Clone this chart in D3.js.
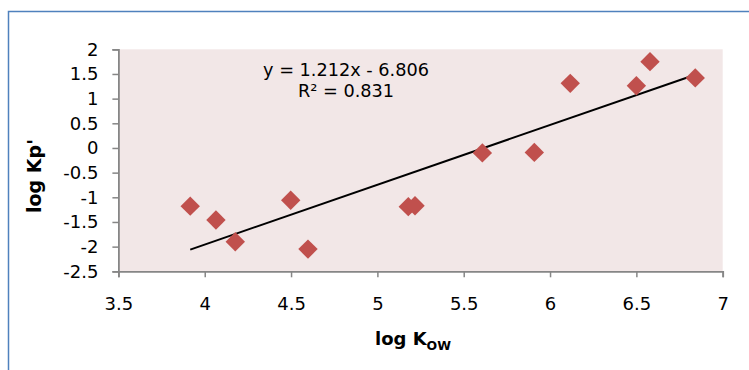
<!DOCTYPE html>
<html>
<head>
<meta charset="utf-8">
<script src="https://cdn.jsdelivr.net/npm/d3@7"></script>
<style>
  html, body { margin: 0; padding: 0; background: #ffffff; }
  svg { display: block; }
</style>
</head>
<body>
<script>
// ---- data ----
const logKow = [3.916, 4.065, 4.177, 4.498, 4.598, 5.179, 5.218, 5.608, 5.909, 6.117, 6.500, 6.579, 6.841];
const logKp  = [-1.18, -1.46, -1.90, -1.06, -2.05, -1.19, -1.17, -0.10, -0.09, 1.31, 1.26, 1.75, 1.42];
const xTicks = [3.5, 4, 4.5, 5, 5.5, 6, 6.5, 7];
const yTicks = [2, 1.5, 1, 0.5, 0, -0.5, -1, -1.5, -2, -2.5];
const slope = 1.212, intercept = -6.806;
const equationText = "y = 1.212x - 6.806";
const r2Text = "R\u00B2 = 0.831";

const W = 749, H = 370;
const plot = { left: 118.4, right: 722.7, top: 49.3, bottom: 271.3 };

const svg = d3.select("body").append("svg").attr("width", W).attr("height", H);

// outer frame (blue, top and left visible)
svg.append("path")
  .attr("d", `M8.5,${H} L8.5,11.5 L${W},11.5`)
  .attr("fill", "none").attr("stroke", "#4f81bd").attr("stroke-width", 1.5);

const x = d3.scaleLinear().domain([3.5, 7]).range([plot.left, plot.right]);
const y = d3.scaleLinear().domain([-2.5, 2]).range([plot.bottom, plot.top]);

// plot area background
svg.append("rect")
  .attr("x", x(3.5)).attr("y", y(2))
  .attr("width", x(7) - x(3.5)).attr("height", y(-2.5) - y(2))
  .attr("fill", "#f2e7e7");

const fmt = d => String(d);
const axisColor = "#868686";
const tickFont = "'DejaVu Sans', sans-serif";

// x axis
const gx = svg.append("g").attr("transform", `translate(0,${plot.bottom})`)
  .call(d3.axisBottom(x).tickValues(xTicks).tickFormat(fmt).tickSizeOuter(0).tickSize(6).tickPadding(20));
// y axis
const gy = svg.append("g").attr("transform", `translate(${plot.left},0)`)
  .call(d3.axisLeft(y).tickValues(yTicks).tickFormat(fmt).tickSizeOuter(0).tickSize(6).tickPadding(14));

[gx, gy].forEach(g => {
  g.select(".domain").attr("stroke", axisColor).attr("stroke-width", 1.8);
  g.selectAll(".tick line").attr("stroke", axisColor).attr("stroke-width", 1.5);
  g.selectAll(".tick text").attr("fill", "#000").style("font-family", tickFont).style("font-size", "18px");
});

// trendline
const xMin = d3.min(logKow), xMax = d3.max(logKow);
svg.append("line")
  .attr("x1", x(xMin)).attr("y1", y(slope * xMin + intercept))
  .attr("x2", x(xMax)).attr("y2", y(slope * xMax + intercept))
  .attr("stroke", "#000").attr("stroke-width", 2);

// markers (diamonds)
const diamond = d3.symbol().type(d3.symbolSquare).size(188);
svg.append("g").selectAll("path")
  .data(logKow.map((v, i) => [v, logKp[i]]))
  .join("path")
  .attr("d", diamond)
  .attr("transform", d => `translate(${x(d[0])},${y(d[1])}) rotate(45)`)
  .attr("fill", "#c0504d");

// equation label
const eq = svg.append("text")
  .attr("text-anchor", "middle")
  .style("font-family", tickFont).style("font-size", "17.7px").attr("fill", "#000");
eq.append("tspan").attr("x", 346).attr("y", 76).text(equationText);
eq.append("tspan").attr("x", 346).attr("y", 96.7).text(r2Text);

// x title
const xt = svg.append("text")
  .attr("x", 413).attr("y", 345).attr("text-anchor", "middle")
  .style("font-family", "'DejaVu Sans', sans-serif").style("font-weight", "bold").style("font-size", "18px");
xt.append("tspan").text("log K");
xt.append("tspan").attr("dy", 5).style("font-size", "12.5px").text("OW");

// y title
svg.append("text")
  .attr("transform", "translate(41,176) rotate(-90)")
  .attr("text-anchor", "middle")
  .style("font-family", "'DejaVu Sans', sans-serif").style("font-weight", "bold").style("font-size", "19px")
  .text("log Kp'");
</script>
</body>
</html>
